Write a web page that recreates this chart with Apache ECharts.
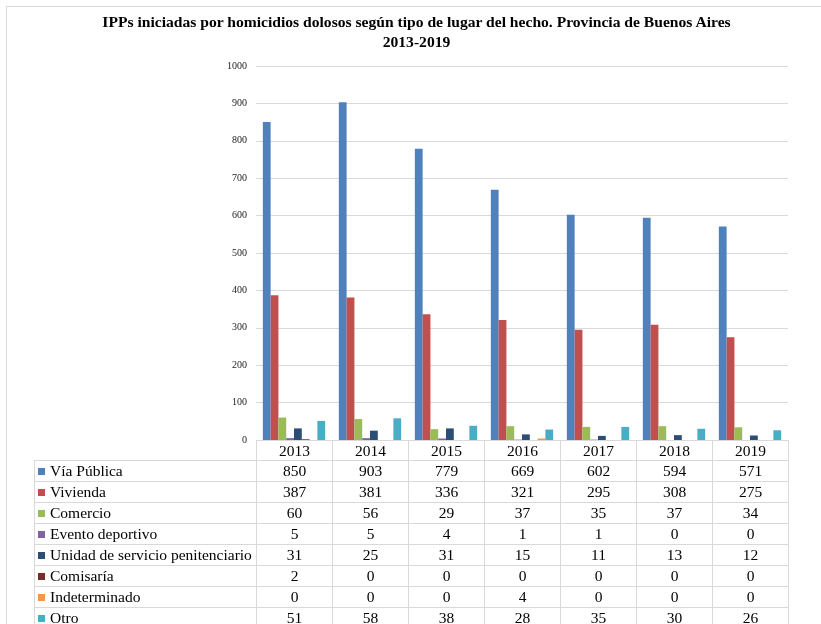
<!DOCTYPE html>
<html>
<head>
<meta charset="utf-8">
<script src="https://cdn.jsdelivr.net/npm/echarts@6/dist/echarts.min.js"></script>
<style>
  html, body { margin: 0; padding: 0; background: #fff; }
  #wrap { position: relative; width: 821px; height: 624px; overflow: hidden; }
  #frame { position: absolute; left: 6px; top: 6px; width: 900px; height: 700px; border: 1px solid #D9D9D9; box-sizing: border-box; }
  #chart { position: absolute; left: 0; top: 0; width: 821px; height: 624px; }
  #title { position: absolute; left: 6px; top: 12px; width: 821px; text-align: center; font-family: "Liberation Serif", serif; font-weight: bold; font-size: 15.6px; line-height: 20px; color: #000; }
  #tbl { position: absolute; left: 34px; top: 440px; border-collapse: collapse; table-layout: fixed; font-family: "Liberation Serif", serif; font-size: 15.5px; color: #000; }
  #tbl td { border: 1.5px solid #D9D9D9; height: 19.4px; padding: 0; text-align: center; white-space: nowrap; overflow: hidden; line-height: 18px; }
  #tbl tr.data td { height: 19.9px; }
  #tbl td.lab { text-align: left; padding-left: 3px; }
  #tbl td.blank { border: none; }
  .key { display: inline-block; width: 7px; height: 7px; margin-right: 5px; vertical-align: 1px; }
</style>
</head>
<body>
<div id="wrap">
  <div id="frame"></div>
  <div id="chart"></div>
  <div id="title">IPPs iniciadas por homicidios dolosos según tipo de lugar del hecho. Provincia de Buenos Aires<br>2013-2019</div>
  <table id="tbl"></table>
</div>
<script>
const years = ['2013', '2014', '2015', '2016', '2017', '2018', '2019'];
const viaPublica = [850, 903, 779, 669, 602, 594, 571];
const vivienda = [387, 381, 336, 321, 295, 308, 275];
const comercio = [60, 56, 29, 37, 35, 37, 34];
const eventoDeportivo = [5, 5, 4, 1, 1, 0, 0];
const unidadPenitenciario = [31, 25, 31, 15, 11, 13, 12];
const comisaria = [2, 0, 0, 0, 0, 0, 0];
const indeterminado = [0, 0, 0, 4, 0, 0, 0];
const otro = [51, 58, 38, 28, 35, 30, 26];
const yTicks = [0, 1000, 100];

const seriesDefs = [
  { name: 'Vía Pública', data: viaPublica, color: '#4F81BD' },
  { name: 'Vivienda', data: vivienda, color: '#C0504D' },
  { name: 'Comercio', data: comercio, color: '#9BBB59' },
  { name: 'Evento deportivo', data: eventoDeportivo, color: '#8064A2' },
  { name: 'Unidad de servicio penitenciario', data: unidadPenitenciario, color: '#2C4D75' },
  { name: 'Comisaría', data: comisaria, color: '#772C2A' },
  { name: 'Indeterminado', data: indeterminado, color: '#F79646' },
  { name: 'Otro', data: otro, color: '#4BACC6' }
];

const chart = echarts.init(document.getElementById('chart'));
chart.setOption({
  animation: false,
  grid: { left: 256, right: 33, top: 66, bottom: 184 },
  xAxis: {
    type: 'category', data: years,
    axisLine: { show: false }, axisTick: { show: false }, axisLabel: { show: false }
  },
  yAxis: {
    type: 'value', min: yTicks[0], max: yTicks[1], interval: yTicks[2],
    axisLine: { show: false }, axisTick: { show: false },
    axisLabel: { fontFamily: 'Liberation Serif', fontSize: 10, color: '#222', margin: 9, formatter: v => String(v) },
    splitLine: { lineStyle: { color: '#D9D9D9', width: 1 } }
  },
  series: seriesDefs.map(s => ({
    name: s.name, type: 'bar', data: s.data,
    barGap: '0%', barCategoryGap: '18%',
    itemStyle: { color: s.color },
    silent: true
  }))
});

// Data table built from the arrays
const tbl = document.getElementById('tbl');
let html = '<colgroup><col style="width:222px">' + years.map(() => '<col style="width:76px">').join('') + '</colgroup>';
html += '<tr><td class="blank"></td>' + years.map(y => '<td>' + y + '</td>').join('') + '</tr>';
seriesDefs.forEach(s => {
  html += '<tr class="data"><td class="lab"><span class="key" style="background:' + s.color + '"></span>' + s.name + '</td>' +
    s.data.map(v => '<td>' + v + '</td>').join('') + '</tr>';
});
tbl.innerHTML = html;
</script>
</body>
</html>
